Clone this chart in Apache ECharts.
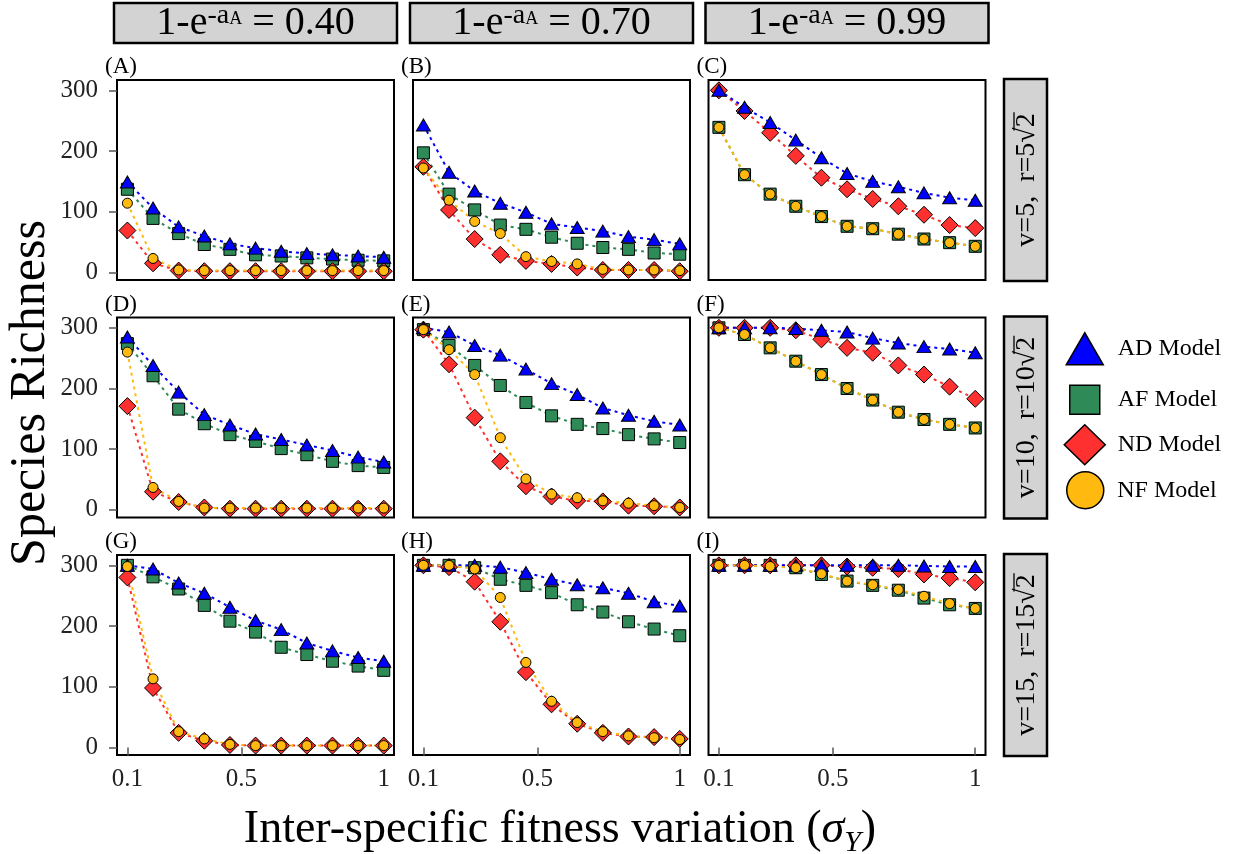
<!DOCTYPE html>
<html><head><meta charset="utf-8">
<script src="https://cdn.jsdelivr.net/npm/echarts@6/dist/echarts.min.js"></script>
<style>html,body{margin:0;padding:0;background:#fff}#c{width:1239px;height:854px}</style>
</head><body><div id="c"></div>
<script>
// ---- data ----
const sigmaY = [0.1, 0.19, 0.28, 0.37, 0.46, 0.55, 0.64, 0.73, 0.82, 0.91, 1.0];
const xTicks = [0.1, 0.5, 1];
const yTicks = [0, 100, 200, 300];
const colLabels = ['0.40', '0.70', '0.99'];
const rowLabels = [['5', '5'], ['10', '10'], ['15', '15']];
const panelLetters = ['A', 'B', 'C', 'D', 'E', 'F', 'G', 'H', 'I'];
const modelNames = ['AD Model', 'AF Model', 'ND Model', 'NF Model'];

// Panel A
const adA = [149, 106, 75, 60, 47, 40, 35, 31, 29, 27, 25];
const afA = [137, 89, 64, 46, 38, 29, 27, 24, 22, 20, 19];
const ndA = [69, 15, 3, 2, 2, 2, 2, 2, 2, 2, 2];
const nfA = [114, 23, 4, 3, 3, 3, 3, 3, 3, 3, 3];
// Panel B
const adB = [243, 165, 134, 114, 99, 80, 74, 68, 59, 54, 47];
const afB = [197, 129, 103, 78, 71, 58, 48, 41, 38, 32, 30];
const ndB = [174, 103, 55, 29, 19, 14, 8, 4, 4, 4, 2];
const nfB = [172, 119, 84, 64, 26, 18, 14, 5, 4, 4, 3];
// Panel C
const adC = [300, 272, 247, 218, 189, 163, 150, 141, 131, 123, 119];
const afC = [239, 161, 129, 109, 92, 76, 72, 63, 55, 49, 43];
const ndC = [300, 266, 230, 192, 156, 137, 121, 109, 95, 78, 73];
const nfC = [239, 161, 129, 109, 92, 76, 72, 63, 55, 49, 43];
// Panel D
const adD = [285, 238, 194, 157, 140, 125, 116, 107, 98, 87, 79];
const afD = [274, 221, 166, 142, 124, 113, 101, 91, 80, 73, 70];
const ndD = [171, 30, 13, 4, 2, 2, 2, 2, 2, 2, 2];
const nfD = [260, 37, 14, 3, 3, 3, 3, 3, 3, 3, 3];
// Panel E
const adE = [300, 293, 271, 255, 232, 208, 190, 168, 156, 146, 140];
const afE = [297, 271, 238, 205, 177, 155, 141, 134, 124, 117, 111];
const ndE = [297, 240, 152, 80, 39, 22, 15, 14, 7, 6, 4];
const nfE = [297, 264, 223, 119, 51, 26, 20, 15, 11, 7, 4];
// Panel F
const adF = [300, 300, 300, 299, 296, 293, 283, 275, 269, 265, 259];
const afF = [300, 289, 267, 245, 223, 200, 181, 161, 149, 141, 135];
const ndF = [300, 300, 300, 296, 281, 267, 259, 238, 223, 203, 183];
const nfF = [300, 289, 267, 245, 223, 200, 181, 161, 149, 141, 135];
// Panel G
const adG = [300, 294, 271, 254, 231, 209, 194, 172, 159, 148, 142];
const afG = [300, 281, 261, 234, 208, 190, 165, 153, 142, 134, 127];
const ndG = [280, 98, 24, 11, 4, 3, 3, 3, 3, 3, 3];
const nfG = [298, 113, 26, 14, 5, 3, 3, 3, 3, 3, 3];
// Panel H
const adH = [300, 300, 300, 297, 288, 277, 268, 263, 254, 240, 233];
const afH = [300, 300, 296, 277, 267, 255, 235, 223, 207, 195, 184];
const ndH = [300, 297, 273, 207, 124, 71, 39, 24, 18, 17, 14];
const nfH = [300, 300, 294, 247, 140, 76, 41, 26, 19, 16, 13];
// Panel I
const adI = [300, 300, 300, 300, 300, 300, 300, 300, 299, 298, 298];
const afI = [300, 300, 300, 296, 285, 274, 267, 259, 246, 235, 229];
const ndI = [300, 300, 300, 300, 300, 298, 296, 294, 285, 279, 272];
const nfI = [300, 300, 298, 296, 286, 274, 268, 260, 249, 237, 229];

const panelData = [
  [adA, afA, ndA, nfA], [adB, afB, ndB, nfB], [adC, afC, ndC, nfC],
  [adD, afD, ndD, nfD], [adE, afE, ndE, nfE], [adF, afF, ndF, nfF],
  [adG, afG, ndG, nfG], [adH, afH, ndH, nfH], [adI, afI, ndI, nfI]
];

// ---- layout / style ----
const FONT = '"Liberation Serif", "Times New Roman", serif';
const colLeft = [117, 413, 708.5];
const rowTop = [80, 317.5, 555];
const PW = 277, PH = 200;

// model index -> style ; draw order AF, ND, AD, NF
const mStyle = [
  {symbol: 'triangle', size: [14, 12], color: '#0000FF'},
  {symbol: 'rect', size: 12, color: '#2E8B57'},
  {symbol: 'diamond', size: 17, color: '#FF3030'},
  {symbol: 'circle', size: 10, color: '#FFB90F'}
];
const drawOrder = [1, 2, 0, 3];

const grids = [], xAxes = [], yAxes = [], series = [];
for (let i = 0; i < 9; i++) {
  const r = Math.floor(i / 3), c = i % 3;
  grids.push({left: colLeft[c], top: rowTop[r], width: PW, height: PH, show: true,
    borderColor: '#000', borderWidth: 2, backgroundColor: '#fff', containLabel: false});
  xAxes.push({gridIndex: i, type: 'value', min: 0.0635, max: 1.036,
    splitLine: {show: false}, axisLine: {show: false},
    axisTick: {show: r === 2, customValues: xTicks, length: 8, lineStyle: {color: '#555', width: 1.5}},
    axisLabel: {show: r === 2, customValues: xTicks, margin: 12, fontFamily: FONT, fontSize: 25, color: '#222',
      formatter: v => String(v)}});
  yAxes.push({gridIndex: i, type: 'value', min: -12.5, max: 317,
    splitLine: {show: false}, axisLine: {show: false},
    axisTick: {show: c === 0, customValues: yTicks, length: 8, lineStyle: {color: '#555', width: 1.5}},
    axisLabel: {show: c === 0, customValues: yTicks, margin: 19, fontFamily: FONT, fontSize: 25, color: '#222'}});
  drawOrder.forEach(m => {
    const st = mStyle[m];
    series.push({
      type: 'line', name: modelNames[m], xAxisIndex: i, yAxisIndex: i,
      data: sigmaY.map((x, k) => [x, panelData[i][m][k]]),
      symbol: st.symbol, symbolSize: st.size, showSymbol: true,
      itemStyle: {color: st.color, borderColor: '#000', borderWidth: 1},
      lineStyle: {color: st.color, width: 2, type: [3, 4]},
      emphasis: {disabled: true}, silent: true
    });
  });
}

// legends (one per item so each icon has its own size)
const legendSpec = [
  {name: 'AD Model', icon: 'triangle', left: 1065.5, top: 332, w: 37, h: 32},
  {name: 'AF Model', icon: 'rect', left: 1069, top: 384.5, w: 30, h: 29},
  {name: 'ND Model', icon: 'diamond', left: 1063.5, top: 424, w: 41, h: 40},
  {name: 'NF Model', icon: 'circle', left: 1066, top: 471, w: 38, h: 37}
];
const legends = legendSpec.map(l => ({
  data: [{name: l.name, icon: l.icon}], left: l.left, top: l.top, padding: 0,
  itemWidth: l.w, itemHeight: l.h, orient: 'vertical', selectedMode: false,
  itemStyle: {borderColor: '#000', borderWidth: 1.5},
  textStyle: {fontFamily: FONT, fontSize: 24, color: '#000', padding: [0, 0, 0, 1117 - (l.left + l.w + 5)]}
}));

// graphics: strips, panel letters, axis titles
const mctx = document.createElement('canvas').getContext('2d');
function tw(text, size) { mctx.font = size + 'px "Liberation Serif"'; return mctx.measureText(text).width; }

const graphics = [];
colLabels.forEach((cl, c) => {
  const x0 = colLeft[c] - 3;
  graphics.push({type: 'rect', shape: {x: x0, y: 3, width: PW + 6, height: 40},
    style: {fill: '#d3d3d3', stroke: '#000', lineWidth: 2.5}});
  graphics.push({type: 'text', x: x0 + (PW + 6) / 2, y: 23.5, style: {
    text: '{m|1-e}{s|-a}{u|A}{m| = ' + cl + '}', align: 'center', verticalAlign: 'middle',
    fill: '#000', fontFamily: FONT, fontSize: 40,
    rich: {
      m: {fontSize: 40, lineHeight: 48, fontFamily: FONT, fill: '#000'},
      s: {fontSize: 28, lineHeight: 28, verticalAlign: 'top', padding: [2, 0, 0, 0], fontFamily: FONT, fill: '#000'},
      u: {fontSize: 18, lineHeight: 18, verticalAlign: 'top', padding: [11, 0, 0, 0], fontFamily: FONT, fill: '#000'}
    }}});
});
rowLabels.forEach((rl, r) => {
  const cy = rowTop[r] + PH / 2;
  graphics.push({type: 'rect', shape: {x: 1004, y: rowTop[r] - 1, width: 43, height: PH + 2},
    style: {fill: '#d3d3d3', stroke: '#000', lineWidth: 2.5}});
  const pre = 'v=' + rl[0] + ',  r=' + rl[1];
  const wp = tw(pre, 28), wr = tw('\u221A', 28), w2 = tw('2', 28);
  const W = wp + wr + w2;
  graphics.push({type: 'group', x: 1027, y: cy, rotation: Math.PI / 2, children: [
    {type: 'text', x: -W / 2, y: 0, style: {text: pre + '\u221A2', fontSize: 28, fontFamily: FONT,
      fill: '#000', align: 'left', verticalAlign: 'middle'}},
    {type: 'line', shape: {x1: -W / 2 + wp + wr * 0.8, y1: -13, x2: W / 2 + 1, y2: -13},
      style: {stroke: '#000', lineWidth: 1.3}}
  ]});
});
panelLetters.forEach((p, i) => {
  const r = Math.floor(i / 3), c = i % 3;
  graphics.push({type: 'text', x: colLeft[c] - 12, y: rowTop[r] - 13, style: {
    text: '(' + p + ')', fontSize: 23, fontFamily: FONT, fill: '#000', align: 'left', verticalAlign: 'middle'}});
});
graphics.push({type: 'text', x: 31, y: 393, rotation: Math.PI / 2, style: {
  text: 'Species Richness', fontSize: 50, fontFamily: FONT, fill: '#000', align: 'center', verticalAlign: 'middle'}});
graphics.push({type: 'text', x: 560, y: 830, style: {
  text: '{t|Inter-specific fitness variation (}{g|\u03C3}{y|Y}{t|)}', align: 'center', verticalAlign: 'middle',
  fill: '#000', fontFamily: FONT, fontSize: 46,
  rich: {
    t: {fontSize: 46, lineHeight: 56, fontFamily: FONT, fill: '#000'},
    g: {fontSize: 46, lineHeight: 56, fontFamily: FONT, fontStyle: 'italic', fill: '#000'},
    y: {fontSize: 30, lineHeight: 30, verticalAlign: 'bottom', fontFamily: FONT, fontStyle: 'italic', fill: '#000'}
  }}});

const chart = echarts.init(document.getElementById('c'), null, {renderer: 'canvas'});
chart.setOption({
  animation: false,
  backgroundColor: '#fff',
  grid: grids, xAxis: xAxes, yAxis: yAxes, series: series,
  legend: legends,
  graphic: {elements: graphics}
});
</script></body></html>
